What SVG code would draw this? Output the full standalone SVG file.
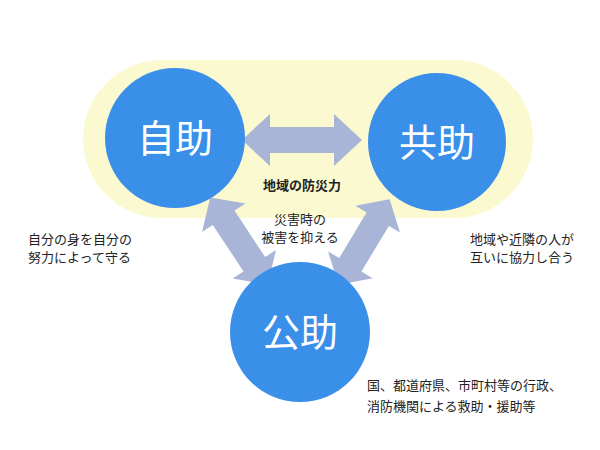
<svg xmlns="http://www.w3.org/2000/svg" width="600" height="450" viewBox="0 0 600 450">
<style>
.c{fill:#3a8fe8}
.big{font-family:"Noto Sans CJK JP",sans-serif;font-size:38px;fill:#fff;text-anchor:middle}
.t{font-family:"Noto Sans CJK JP",sans-serif;font-size:13px;fill:#222}
.arr{fill:#a9b5d6}
</style>
<defs>
<polygon id="da" points="-60,0 -32,-26 -32,-13 32,-13 32,-26 60,0 32,26 32,13 -32,13 -32,26"/>
</defs>
<rect x="83" y="60" width="450" height="158" rx="79" fill="#fbf9cf"/>
<g id="connectors" class="arr">
<use href="#da" transform="translate(302,140)"/>
<use href="#da" transform="translate(239,241) rotate(56.6) scale(0.87,1)"/>
<use href="#da" transform="translate(364,242) rotate(121) scale(0.83,1)"/>
</g>
<g id="jijo"><circle class="c" cx="175" cy="138" r="70"/><text class="big" x="175" y="152">自助</text></g>
<g id="kyojo"><circle class="c" cx="437" cy="142" r="69"/><text class="big" x="437" y="156">共助</text></g>
<g id="kojo"><circle class="c" cx="300" cy="332" r="70"/><text class="big" x="300" y="346">公助</text></g>
<text class="t" x="302" y="190" text-anchor="middle" font-weight="bold">地域の防災力</text>
<text class="t" x="300" y="224" text-anchor="middle">災害時の</text>
<text class="t" x="300" y="242" text-anchor="middle">被害を抑える</text>
<text class="t" x="28" y="244">自分の身を自分の</text>
<text class="t" x="28" y="262">努力によって守る</text>
<text class="t" x="470" y="244">地域や近隣の人が</text>
<text class="t" x="470" y="262">互いに協力し合う</text>
<text class="t" x="367" y="390">国、都道府県、市町村等の行政、</text>
<text class="t" x="367" y="411">消防機関による救助・援助等</text>
</svg>
